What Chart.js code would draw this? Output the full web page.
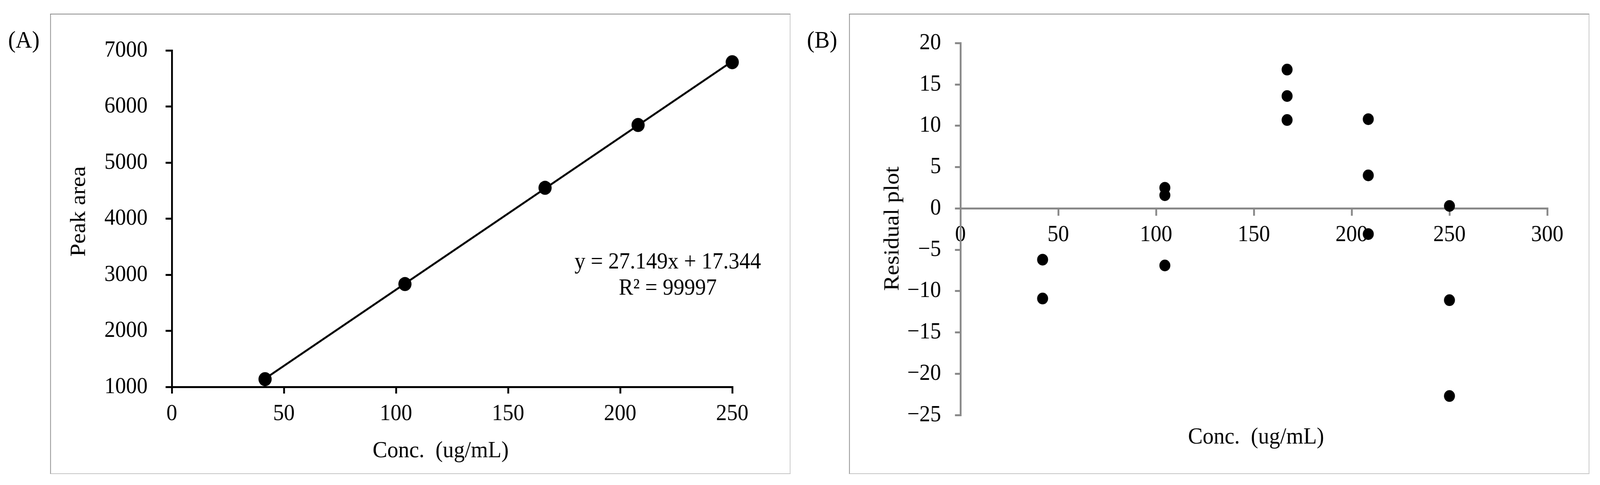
<!DOCTYPE html>
<html>
<head>
<meta charset="utf-8">
<title>Calibration curve and residual plot</title>
<script src="https://cdn.jsdelivr.net/npm/chart.js@4/dist/chart.umd.min.js"></script>
<style>
  html, body { margin: 0; padding: 0; background: #fff; overflow: hidden; }
  #page { width: 4368px; height: 1241px; position: absolute; left: 0; top: 0; transform-origin: 0 0; }
  .panel {
    position: absolute; top: 35px; width: 2021px; height: 1178px;
    box-sizing: border-box;
    border-top: 2px solid #8a8a8a; border-left: 2px solid #8a8a8a;
    border-right: 2px solid #c6c6c6; border-bottom: 2px solid #c6c6c6;
  }
  .panel canvas { position: absolute; left: 0; top: 0; }
  .tag {
    position: absolute; top: 70px;
    font-family: "Liberation Serif", "Times New Roman", serif;
    font-size: 62px; line-height: 62px; color: #000;
  }
</style>
</head>
<body>
<div id="page">
<div class="tag" style="left:22px">(A)</div>
<div class="tag" style="left:2203px">(B)</div>
<div class="panel" style="left:137px"><canvas id="calChart" width="2021" height="1178"></canvas></div>
<div class="panel" style="left:2318px"><canvas id="residChart" width="2021" height="1178"></canvas></div>
</div>

<script>
// (A) calibration: measured points and the fitted line
const concA = [41.6, 104, 166.5, 208, 250];
const areaA = [1138, 2834, 4550, 5670, 6790];
const fitConc = [41.6, 250];
const fitArea = [1147, 6805];
const xTicksA = [0, 50, 100, 150, 200, 250];
const yTicksA = [1000, 2000, 3000, 4000, 5000, 6000, 7000];

// (B) residuals, three replicates per level
const concB = [42, 42, 104.5, 104.5, 104.5, 167, 167, 167, 208.5, 208.5, 208.5, 250, 250, 250];
const residB = [-6.2, -10.9, 2.5, 1.6, -6.9, 16.8, 13.6, 10.7, 10.8, 4.0, -3.1, 0.3, -11.1, -22.7];
const xTicksB = [0, 50, 100, 150, 200, 250, 300];
const yTicksB = [-25, -20, -15, -10, -5, 0, 5, 10, 15, 20];

// the window may be narrower than the 4368px figure, so fit the figure to it
const page = document.getElementById("page");
page.style.transform = "scale(" + (window.innerWidth / 4368) + "," + (window.innerHeight / 1241) + ")";

const serif = "'Liberation Serif', 'Times New Roman', serif";
Chart.defaults.font.family = serif;
Chart.defaults.color = "#000";
Chart.defaults.animation = false;

function pairs(xs, ys) {
    return xs.map((x, i) => ({ x: x, y: ys[i] }));
}

function fixedTicks(list) {
    return function (scale) {
        scale.ticks = list.map(v => ({ value: v }));
    };
}

// draws axis titles and the trendline equation
const captions = {
    id: "captions",
    afterDraw(chart, args, opts) {
        const ctx = chart.ctx;
        (opts.items || []).forEach(it => {
            ctx.save();
            ctx.font = (it.size || 60) + "px " + serif;
            ctx.fillStyle = "#000";
            ctx.textAlign = "center";
            ctx.textBaseline = "alphabetic";
            ctx.translate(it.x, it.y);
            if (it.rotate) ctx.rotate(-Math.PI / 2);
            ctx.fillText(it.text, 0, 0);
            ctx.restore();
        });
    },
};

new Chart(document.getElementById("calChart"), {
    type: "scatter",
    data: {
        datasets: [
            {
                label: "Linear fit",
                data: pairs(fitConc, fitArea),
                showLine: true,
                borderColor: "#000",
                borderWidth: 5,
                pointRadius: 0,
                clip: false,
            },
            {
                label: "Peak area",
                data: pairs(concA, areaA),
                backgroundColor: "#000",
                borderWidth: 0,
                pointRadius: 18,
                clip: false,
            },
        ],
    },
    options: {
        responsive: false,
        devicePixelRatio: 1,
        layout: { padding: { left: 0, right: 161, top: 92, bottom: 0 } },
        plugins: {
            legend: { display: false },
            tooltip: { enabled: false },
            captions: {
                items: [
                    { text: "Peak area", x: 93, y: 504, rotate: true },
                    { text: "Conc.  (ug/mL)", x: 1064, y: 1133 },
                    { text: "y = 27.149x + 17.344", x: 1684, y: 650, size: 59 },
                    { text: "R\u00B2 = 99997", x: 1684, y: 717, size: 59 },
                ],
            },
        },
        scales: {
            x: {
                type: "linear",
                min: 0,
                max: 250,
                afterBuildTicks: fixedTicks(xTicksA),
                afterFit: s => { s.height = 225; },
                grid: { drawOnChartArea: false, tickLength: 17, color: "#000", lineWidth: 5 },
                border: { color: "#000", width: 5 },
                ticks: { font: { size: 59 }, padding: 17, maxRotation: 0, autoSkip: false,
                         callback: v => String(v) },
            },
            y: {
                type: "linear",
                min: 1000,
                max: 7000,
                afterBuildTicks: fixedTicks(yTicksA),
                afterFit: s => { s.width = 330; },
                grid: { drawOnChartArea: false, tickLength: 17, color: "#000", lineWidth: 5 },
                border: { color: "#000", width: 5 },
                ticks: { font: { size: 59 }, padding: 49, autoSkip: false,
                         callback: v => String(v) },
            },
        },
    },
    plugins: [captions],
});

new Chart(document.getElementById("residChart"), {
    type: "scatter",
    data: {
        datasets: [
            {
                label: "Residual",
                data: pairs(concB, residB),
                backgroundColor: "#000",
                borderWidth: 0,
                pointRadius: 15,
                clip: false,
            },
        ],
    },
    options: {
        responsive: false,
        devicePixelRatio: 1,
        layout: { padding: { left: 0, right: 117, top: 65, bottom: 153 } },
        plugins: {
            legend: { display: false },
            tooltip: { enabled: false },
            captions: {
                items: [
                    { text: "Residual plot", x: 133, y: 548, rotate: true },
                    { text: "Conc.  (ug/mL)", x: 1109, y: 1098 },
                ],
            },
        },
        scales: {
            x: {
                type: "linear",
                position: { y: 0 },
                min: 0,
                max: 300,
                afterBuildTicks: fixedTicks(xTicksB),
                grid: { drawOnChartArea: false, tickLength: 16, color: "#898989", lineWidth: 5 },
                border: { color: "#898989", width: 5 },
                ticks: { font: { size: 59 }, padding: 17, maxRotation: 0, autoSkip: false,
                         callback: v => String(v) },
            },
            y: {
                type: "linear",
                min: -25,
                max: 20,
                afterBuildTicks: fixedTicks(yTicksB),
                afterFit: s => { s.width = 302; },
                grid: { drawOnChartArea: false, tickLength: 15, color: "#898989", lineWidth: 5 },
                border: { color: "#898989", width: 5 },
                ticks: { font: { size: 59 }, padding: 38, autoSkip: false,
                         callback: v => String(v).replace("-", "\u2212") },
            },
        },
    },
    plugins: [captions],
});
</script>
</body>
</html>
